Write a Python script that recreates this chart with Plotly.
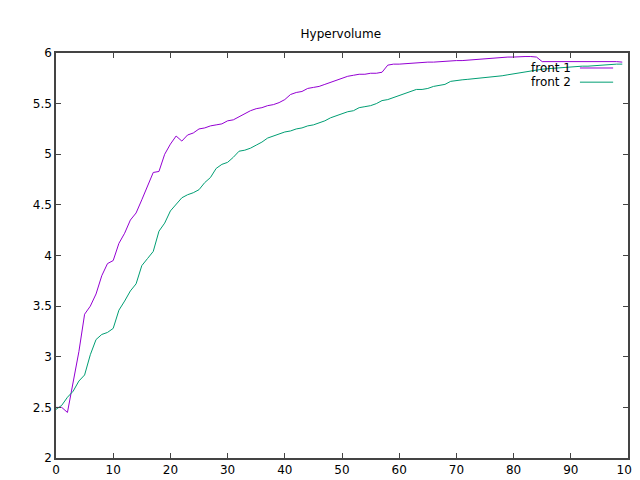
import plotly.graph_objects as go

x = list(range(100))
front1 = [2.5,2.5,2.45,2.75,3.05,3.42,3.5,3.62,3.8,3.92,3.95,4.12,4.22,4.35,4.42,4.55,4.68,4.82,4.83,5.0,
          5.1,5.18,5.13,5.19,5.21,5.25,5.26,5.28,5.29,5.3,5.33,5.34,5.37,5.4,5.43,5.45,5.46,5.48,5.49,5.51,
          5.54,5.59,5.61,5.62,5.65,5.66,5.67,5.69,5.71,5.73,5.75,5.77,5.78,5.79,5.79,5.8,5.8,5.81,5.88,5.89,
          5.89,5.895,5.9,5.9,5.905,5.91,5.91,5.915,5.92,5.92,5.925,5.925,5.93,5.93,5.94,5.945,5.95,5.95,5.955,5.96,
          5.96,5.965,5.965,5.965,5.96,5.915,5.915,5.915,5.915,5.915,5.92,5.92,5.92,5.92,5.92,5.92,5.92,5.92,5.915,5.91]
front2 = [2.48,2.52,2.6,2.66,2.76,2.82,3.02,3.17,3.22,3.24,3.28,3.46,3.55,3.65,3.72,3.9,3.97,4.04,4.24,4.32,
          4.44,4.5,4.57,4.6,4.62,4.65,4.72,4.77,4.86,4.9,4.92,4.97,5.03,5.04,5.06,5.09,5.12,5.16,5.18,5.2,
          5.22,5.23,5.25,5.26,5.28,5.29,5.31,5.33,5.36,5.38,5.4,5.42,5.43,5.46,5.47,5.48,5.5,5.53,5.54,5.56,
          5.58,5.6,5.62,5.64,5.64,5.65,5.67,5.68,5.69,5.72,5.73,5.735,5.74,5.745,5.75,5.755,5.76,5.77,5.775,5.785,
          5.795,5.8,5.81,5.82,5.83,5.84,5.845,5.85,5.855,5.86,5.86,5.865,5.87,5.87,5.875,5.88,5.885,5.885,5.89,5.89]

c1, c2 = "#9400d3", "#009e73"
fig = go.Figure()
fig.add_trace(go.Scatter(x=x, y=front1, mode="lines", line=dict(color=c1, width=1), name="front 1"))
fig.add_trace(go.Scatter(x=x, y=front2, mode="lines", line=dict(color=c2, width=1), name="front 2"))

ax = dict(showgrid=False, zeroline=False, showline=True, mirror="ticks", linecolor="#444", linewidth=1.5,
          ticks="inside", ticklen=5, tickcolor="#444", automargin=False)
fig.update_xaxes(range=[0, 100], dtick=10, **ax)
fig.update_yaxes(range=[2, 6], dtick=0.5, **ax)

for i, (t, c) in enumerate([("front 1", c1), ("front 2", c2)]):
    yp = 0.963 - i * 0.035
    fig.add_annotation(x=0.904, y=yp, xref="paper", yref="paper", text=t, showarrow=False,
                       xanchor="right", yanchor="middle", font=dict(size=12, color="black"))
    fig.add_shape(type="line", xref="paper", yref="paper", x0=0.916, x1=0.974, y0=yp, y1=yp,
                  line=dict(color=c, width=1))

fig.update_layout(
    width=640, height=480, showlegend=False,
    margin=dict(l=48, r=20, t=45, b=30),
    paper_bgcolor="white", plot_bgcolor="white",
    font=dict(family="DejaVu Sans", size=12, color="black"),
    title=dict(text="Hypervolume", x=0.52, xanchor="center", y=0.954, font=dict(size=12)),
)
fig.write_html("out.html")
